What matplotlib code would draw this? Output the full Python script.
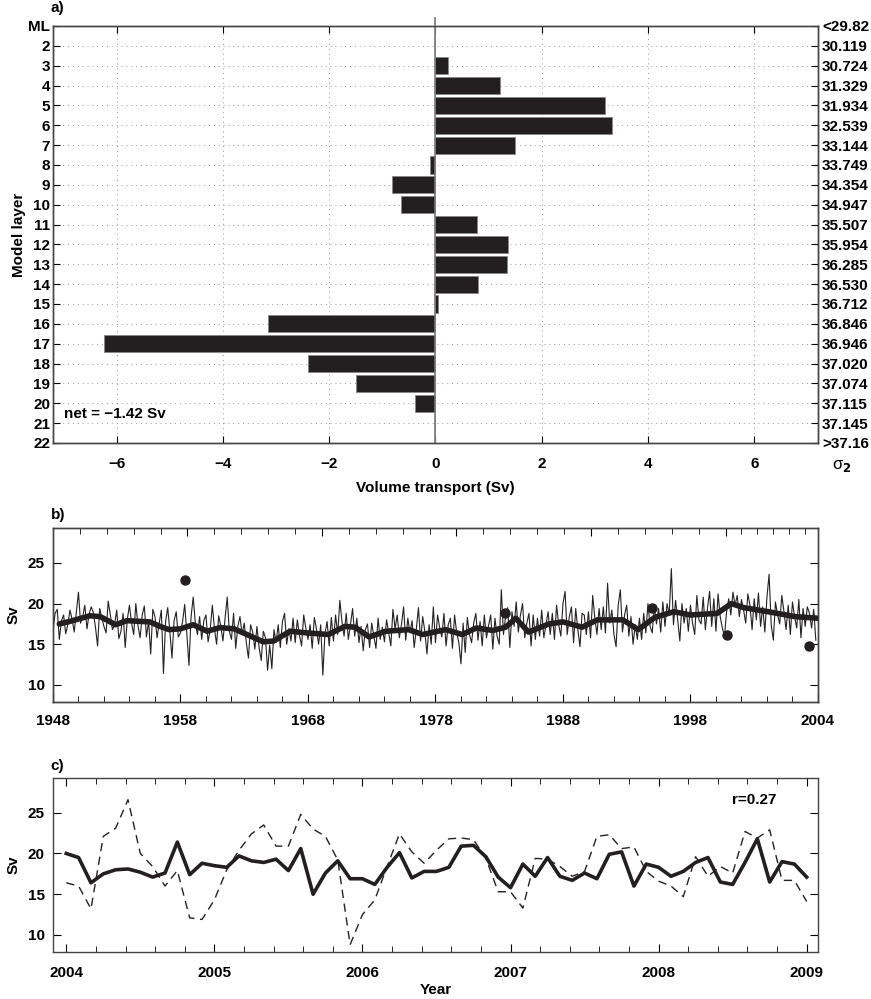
import matplotlib
matplotlib.use("Agg")
import matplotlib.pyplot as plt
import numpy as np

plt.rcParams['font.family'] = ['Liberation Sans', 'DejaVu Sans']
plt.rcParams['font.weight'] = 'bold'
plt.rcParams['axes.labelweight'] = 'bold'
plt.rcParams['font.size'] = 11

# ---- panel a: transport per model layer ----
layers = list(range(1, 23))
layer_labels = ["ML"] + [str(k) for k in range(2, 23)]
sigma_labels = ["<29.82", "30.119", "30.724", "31.329", "31.934", "32.539", "33.144",
                "33.749", "34.354", "34.947", "35.507", "35.954", "36.285", "36.530",
                "36.712", "36.846", "36.946", "37.020", "37.074", "37.115", "37.145", ">37.16"]
transport = [0.0, 0.0, 0.23, 1.21, 3.19, 3.33, 1.50, -0.10, -0.82, -0.65, 0.78, 1.37,
             1.35, 0.81, 0.05, -3.15, -6.23, -2.39, -1.50, -0.38, 0.0, 0.0]

# ---- panel b: model transport 1948-2007 (bimonthly estimates) ----
thin_b = [
    16.6, 18.8, 19.3, 15.6, 17.9, 18.6,   # 1948
    16.3, 17.4, 19.2, 18.1, 16.5, 18.9,
    21.4, 17.6, 18.4, 19.8, 16.9, 18.7,
    19.6, 18.9, 17.1, 14.8, 19.4, 18.2,
    17.2, 16.4, 20.3, 18.6, 16.8, 17.4,
    19.2, 15.7, 16.6, 18.8, 14.6, 18.1,
    19.8, 17.6, 16.2, 20.0, 17.3, 15.8,
    18.6, 19.7, 15.9, 17.9, 13.8, 19.3,
    18.4, 15.8, 17.6, 19.2, 11.4, 17.8,
    19.5, 16.6, 13.3, 17.9, 19.0, 15.9,
    16.4, 17.8, 19.9, 16.3, 12.4, 18.4,   # 1958
    20.8, 17.6, 16.2, 18.4, 15.6, 17.9,
    18.6, 15.3, 16.8, 19.8, 16.9, 15.0,
    18.5, 17.2, 15.4, 18.2, 20.8, 16.6,
    15.6, 18.8, 14.5, 17.2, 18.4, 16.2,
    17.6, 15.2, 13.3, 17.4, 16.5, 14.4,
    17.2, 14.6, 13.0, 16.6, 15.8, 11.8,
    14.9, 12.0, 16.8, 15.2, 17.4, 14.6,
    17.8, 18.8, 15.0, 16.9, 15.4, 18.2,
    15.2, 18.0, 16.1, 14.8, 18.6, 17.0,
    15.6, 17.4, 14.5, 18.3, 16.9, 15.0,   # 1968
    17.4, 11.2, 16.3, 17.8, 14.8, 18.3,
    15.4, 18.6, 16.2, 20.4, 17.8, 16.0,
    18.8, 15.6, 17.4, 19.4, 16.0, 18.2,
    15.2, 17.2, 14.2, 16.8, 17.5, 14.6,
    17.6, 16.0, 14.5, 18.2, 15.6, 17.1,
    15.3, 18.0, 16.4, 14.8, 19.3, 16.9,
    18.6, 15.8, 17.4, 19.6, 15.5, 18.2,
    16.4, 17.9, 14.6, 16.9, 19.5, 15.4,
    18.4, 16.6, 13.8, 17.4, 15.0, 19.6,
    15.2, 18.6, 17.0, 15.9, 18.8, 14.8,   # 1978
    17.4, 18.2, 14.5, 18.6, 16.4, 15.2,
    12.6, 17.6, 14.0, 18.3, 16.2, 15.2,
    17.6, 18.8, 15.5, 17.8, 14.8, 18.6,
    15.8, 17.3, 18.6, 14.4, 18.2, 16.0,
    15.0, 21.7, 16.2, 18.4, 19.5, 14.6,
    19.0, 17.2, 20.2, 16.5, 18.6, 20.0,
    15.8, 17.6, 18.8, 14.8, 18.6, 15.6,
    18.2, 16.0, 19.2, 15.8, 17.4, 19.0,
    16.2, 18.8, 15.6, 19.8, 17.4, 16.0,
    20.0, 21.5, 16.2, 18.4, 19.6, 15.2,   # 1988
    19.4, 16.8, 14.7, 18.8, 18.6, 16.2,
    19.0, 15.8, 21.0, 18.2, 16.2, 19.4,
    16.8, 19.6, 16.4, 22.5, 17.6, 19.2,
    16.2, 14.7, 19.8, 21.7, 16.5, 18.6,
    19.8, 16.0, 18.4, 15.0, 17.4, 15.6,
    18.2, 15.6, 18.8, 16.4, 20.0, 17.2,
    16.4, 19.6, 17.5, 19.4, 16.5, 20.2,
    17.2, 20.0, 18.6, 24.3, 17.4, 20.4,
    18.0, 15.4, 20.0, 17.6, 19.4, 16.6,
    19.8, 17.6, 16.2, 21.0, 18.0, 17.5,   # 1998
    20.8, 16.8, 19.4, 21.5, 17.2, 20.6,
    16.6, 21.2, 18.4, 17.0, 16.0, 19.0,
    20.6, 18.6, 21.4, 19.8, 21.0, 18.4,
    20.5, 19.2, 17.6, 21.2, 19.8, 16.8,
    20.6, 18.0, 21.3, 17.2, 19.6, 16.5,
    20.8, 23.6, 17.4, 15.5, 20.2, 18.6,
    17.5, 21.0, 19.0, 16.8, 19.8, 16.2,
    20.2, 18.4, 17.0, 20.5, 15.8, 19.4,
    17.2, 19.6, 18.8, 17.0, 19.3, 15.5,
]
smooth_t = [1948.5, 1949.3, 1950.9, 1951.7, 1952.2, 1952.9, 1953.8, 1955.6, 1956.4, 1957.1,
            1958.0, 1959.0, 1960.1, 1961.1, 1962.2, 1963.5, 1964.5, 1965.3, 1966.6, 1967.9,
            1969.6, 1970.9, 1971.7, 1972.8, 1974.1, 1975.9, 1977.0, 1978.8, 1980.1, 1981.2,
            1982.5, 1983.5, 1984.3, 1985.3, 1986.9, 1988.0, 1989.5, 1990.7, 1992.7, 1993.9,
            1995.2, 1996.7, 1998.0, 2000.1, 2001.2, 2002.2, 2004.1, 2006.2, 2008.0]
smooth_v = [17.5, 17.8, 18.5, 18.4, 18.0, 17.4, 17.9, 17.75, 17.2, 16.8,
            16.9, 17.4, 16.6, 17.05, 16.9, 16.0, 15.3, 15.4, 16.6, 16.4,
            16.2, 17.2, 17.1, 15.9, 16.6, 16.8, 16.2, 16.8, 16.2, 17.0,
            16.7, 17.1, 18.2, 16.5, 17.5, 17.75, 17.1, 18.0, 18.0, 16.8,
            18.3, 19.0, 18.6, 18.8, 20.0, 19.5, 19.0, 18.4, 18.2]
obs_t = [1958.37, 1983.45, 1994.95, 2000.84, 2007.33]
obs_v = [22.9, 18.8, 19.4, 16.1, 14.75]
b_ticks = [1948, 1958, 1968, 1978, 1988, 1998, 2008]
b_ticklabels = ["1948", "1958", "1968", "1978", "1988", "1998", "2004"]

# ---- panel c: monthly 2004-2009 ----
solid_c = [20.0, 19.5, 16.4, 17.5, 18.0, 18.1, 17.7, 17.1, 17.6, 21.4, 17.4, 18.8,
           18.5, 18.3, 19.7, 19.1, 18.9, 19.3, 17.9, 20.6, 15.0, 17.6, 19.1, 16.9,
           16.9, 16.2, 18.3, 20.1, 17.0, 17.8, 17.8, 18.3, 20.9, 21.0, 19.6, 17.1,
           15.8, 18.7, 17.2, 19.5, 17.2, 16.7, 17.6, 16.9, 19.9, 20.2, 16.0, 18.7,
           18.3, 17.2, 17.8, 18.9, 19.5, 16.5, 16.2, 18.9, 21.8, 16.5, 19.0, 18.7,
           17.1]
dashed_c = [16.4, 16.0, 13.2, 22.1, 23.1, 26.6, 20.0, 18.4, 16.0, 17.9, 12.1, 11.9,
            14.3, 18.0, 20.4, 22.4, 23.5, 20.9, 20.9, 24.8, 23.0, 22.1, 19.2, 8.8,
            12.5, 14.3, 18.4, 22.4, 20.2, 18.8, 20.4, 21.8, 21.9, 21.7, 19.4, 15.3,
            15.3, 13.3, 19.4, 19.3, 18.4, 17.2, 17.8, 22.1, 22.3, 20.6, 20.8, 17.8,
            16.6, 16.0, 14.7, 19.6, 17.2, 18.4, 17.6, 22.7, 21.9, 22.9, 16.7, 16.7,
            14.1]

DARK = "#231f20"
SPINE = "#444444"


def style_spines(ax):
    for s in ax.spines.values():
        s.set_color(SPINE)
        s.set_linewidth(1.0)


fig = plt.figure(figsize=(8.71, 9.99), dpi=100)

# ================= panel a =================
ax = fig.add_axes([0.0608, 0.5566, 0.8783, 0.4174])
ax.barh(layers, transport, height=0.86, color=DARK, edgecolor="#888888", linewidth=0.6, zorder=3)
ax.set_xlim(-7.2, 7.2)
ax.set_ylim(22, 1)
ax.set_yticks(layers)
ax.set_yticklabels(layer_labels)
ax.set_xticks([-6, -4, -2, 0, 2, 4, 6])
ax.set_xticklabels(["\u22126", "\u22124", "\u22122", "0", "2", "4", "6"])
for gx in [-6, -4, -2, 2, 4, 6]:
    ax.axvline(gx, color="#999999", lw=0.7, ls=(0, (1, 4)), zorder=1)
for gy in range(2, 22):
    ax.axhline(gy, color="#999999", lw=0.7, ls=(0, (1, 4)), zorder=1)
ax.axvline(0, ymin=0, ymax=1.02, color="#777777", lw=1.2, zorder=4, clip_on=False)
ax.tick_params(axis="x", direction="in", length=5, top=True, pad=10)
ax.tick_params(axis="y", direction="in", length=5, pad=2)
ax.set_xlabel("Volume transport (Sv)", labelpad=7)
ax.set_ylabel("Model layer", labelpad=2)
ax.text(-7.0, 20.55, "net = \u22121.42 Sv", ha="left", va="center", fontsize=11)
ax.text(-0.003, 1.043, "a)", transform=ax.transAxes, ha="left", va="center", fontsize=11)
axr = ax.twinx()
axr.set_ylim(22, 1)
axr.set_yticks(layers)
axr.set_yticklabels(sigma_labels)
axr.tick_params(axis="y", direction="in", length=5, pad=3)
fig.text(0.955, 0.534, "\u03c3$_2$", ha="left", va="center", fontsize=12, fontweight="normal")
style_spines(ax)
style_spines(axr)

# ================= panel b =================
t_b = 1948 + np.arange(len(thin_b)) / 6.0
axb = fig.add_axes([0.0608, 0.2973, 0.8783, 0.1742])
axb.plot(t_b, thin_b, color="#222222", lw=0.8, zorder=2)
axb.plot(smooth_t, smooth_v, color=DARK, lw=4.0, solid_capstyle="round", zorder=3)
axb.plot(obs_t, obs_v, "o", color=DARK, ms=6.5, zorder=4)
axb.set_xlim(1948, 2008)
axb.set_ylim(7.9, 29.3)
axb.set_xticks(b_ticks)
axb.set_xticklabels(b_ticklabels)
axb.set_xticks(np.arange(1948, 2009, 2), minor=True)
axb.set_yticks([10, 15, 20, 25])
axb.tick_params(axis="both", which="major", direction="in", length=6, right=True)
axb.tick_params(axis="x", which="major", pad=9)
axb.tick_params(axis="y", which="major", pad=6)
axb.tick_params(axis="x", which="minor", direction="in", length=4)
axb.set_ylabel("Sv", labelpad=5)
axb.text(-0.003, 1.075, "b)", transform=axb.transAxes, ha="left", va="center", fontsize=11)
# top axis ticks (second time axis, unlabelled)
axt = axb.twiny()
axt.set_xlim(1948, 2008)
top_major = [1948 + 10.55 * k for k in range(1, 6)]
top_minor = [1948 + 2.11 * j for j in range(26)] + [2000.75 + 1.245 * j for j in range(1, 6)]
axt.set_xticks(top_major)
axt.set_xticks(top_minor, minor=True)
axt.set_xticklabels([])
axt.tick_params(axis="x", which="major", direction="in", length=6)
axt.tick_params(axis="x", which="minor", direction="in", length=4)
style_spines(axb)
style_spines(axt)

# ================= panel c =================
t_c = 2004 + np.arange(len(solid_c)) / 12.0
axc = fig.add_axes([0.0608, 0.0470, 0.8783, 0.1745])
axc.plot(t_c, dashed_c, color="#222222", lw=1.0, ls=(0, (6, 4)), zorder=2)
axc.plot(t_c, solid_c, color=DARK, lw=2.6, zorder=3)
axc.set_xlim(2003.91, 2009.076)
axc.set_ylim(7.9, 29.3)
axc.set_xticks(range(2004, 2010))
axc.set_xticks(np.arange(2004, 2009.01, 0.2), minor=True)
axc.set_yticks([10, 15, 20, 25])
axc.tick_params(axis="both", which="major", direction="in", length=6, top=True, right=True)
axc.tick_params(axis="x", which="major", pad=10)
axc.tick_params(axis="y", which="major", pad=6)
axc.tick_params(axis="x", which="minor", direction="in", length=4, top=True)
axc.set_ylabel("Sv", labelpad=5)
axc.set_xlabel("Year", labelpad=2)
axc.text(0.945, 0.872, "r=0.27", transform=axc.transAxes, ha="right", va="center", fontsize=11)
axc.text(-0.003, 1.067, "c)", transform=axc.transAxes, ha="left", va="center", fontsize=11)
style_spines(axc)

fig.savefig("out.png", dpi=100)
